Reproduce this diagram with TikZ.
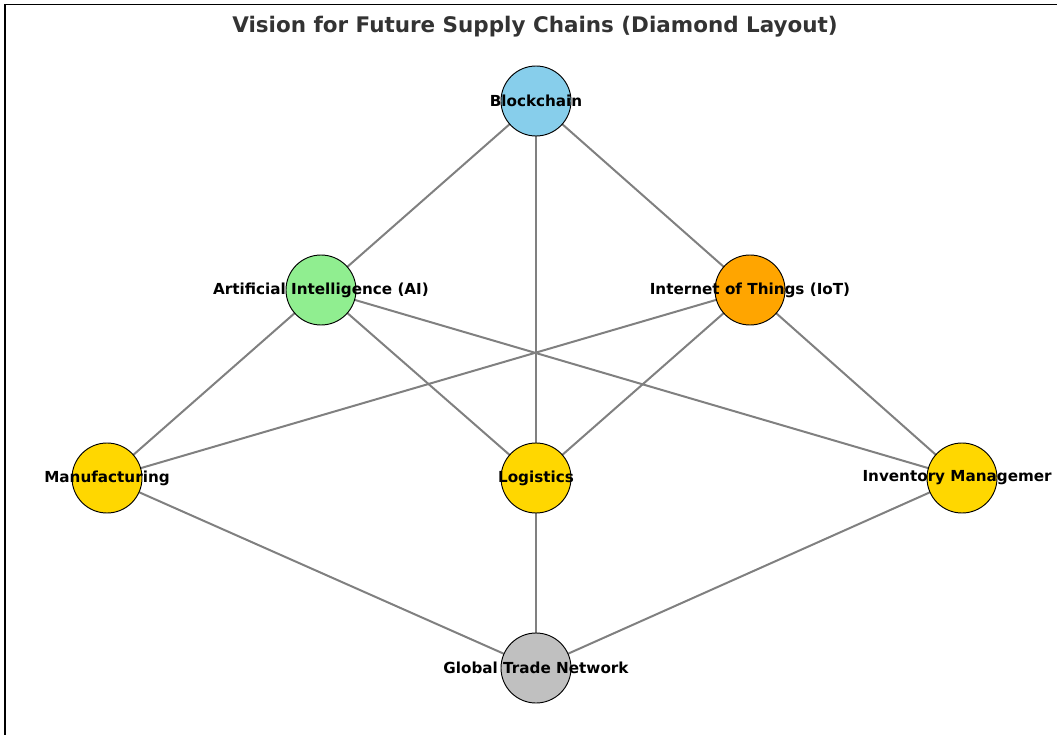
\documentclass[tikz,border=0pt]{standalone}
\usepackage{fontspec}
\setmainfont{DejaVu Sans}
\usetikzlibrary{backgrounds}
\definecolor{cblock}{HTML}{87CEEB}
\definecolor{cai}{HTML}{90EE90}
\definecolor{ciot}{HTML}{FFA500}
\definecolor{cgold}{HTML}{FFD700}
\definecolor{csilver}{HTML}{C0C0C0}
\definecolor{cedge}{HTML}{808080}
\definecolor{ctitle}{HTML}{333333}
\tikzset{
  disc/.style={circle,draw=black,line width=0.7pt,minimum size=52.5pt,inner sep=0pt},
  lbl/.style={font=\fontsize{11.4}{13}\selectfont\bfseries,text=black,inner sep=0pt},
  edge/.style={draw=cedge,line width=1.5pt},
  frame/.style={draw=black,line width=0.9pt}
}
\begin{document}
\begin{tikzpicture}[x=0.75pt,y=-0.75pt]
\useasboundingbox (0,0) rectangle (1057,735);
\coordinate (ftl) at (5,4.5);
\coordinate (ftr) at (1060,4.5);
\coordinate (fbl) at (5,740);
\draw[frame] (ftr) -- (ftl) -- (fbl);
\node[font=\fontsize{16.1}{19}\selectfont\bfseries,text=ctitle] (title) at (535,27) {Vision for Future Supply Chains (Diamond Layout)};
\node[disc,fill=cblock] (bc) at (536,101) {};
\node[disc,fill=cai] (ai) at (321,290) {};
\node[disc,fill=ciot] (iot) at (750,290) {};
\node[disc,fill=cgold] (man) at (107,478) {};
\node[disc,fill=cgold] (log) at (536,478) {};
\node[disc,fill=cgold] (inv) at (962,478) {};
\node[disc,fill=csilver] (gtn) at (536,668) {};
\begin{pgfonlayer}{background}
\draw[edge] (bc.center) -- (ai.center);
\draw[edge] (bc.center) -- (iot.center);
\draw[edge] (bc.center) -- (log.center);
\draw[edge] (ai.center) -- (man.center);
\draw[edge] (ai.center) -- (log.center);
\draw[edge] (ai.center) -- (inv.center);
\draw[edge] (iot.center) -- (man.center);
\draw[edge] (iot.center) -- (log.center);
\draw[edge] (iot.center) -- (inv.center);
\draw[edge] (man.center) -- (gtn.center);
\draw[edge] (log.center) -- (gtn.center);
\draw[edge] (inv.center) -- (gtn.center);
\end{pgfonlayer}
\node[lbl] (bcl) at (bc) {Blockchain};
\node[lbl] (ail) at (ai) {Artificial Intelligence (AI)};
\node[lbl] (iotl) at (iot) {Internet of Things (IoT)};
\node[lbl] (manl) at (man) {Manufacturing};
\node[lbl] (logl) at (log) {Logistics};
\node[lbl,anchor=east] (invl) at (1052,478) {Inventory Managemer};
\node[lbl] (gtnl) at (gtn) {Global Trade Network};
\end{tikzpicture}
\end{document}
